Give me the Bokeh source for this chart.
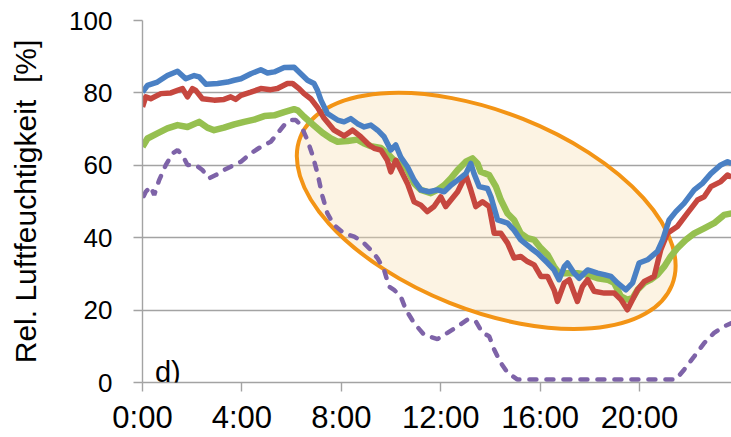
from bokeh.plotting import figure
from bokeh.models import FixedTicker, Range1d, Label
from bokeh.embed import file_html
from bokeh.resources import INLINE

# ---------------- data ----------------
tick_hours = [0, 4, 8, 12, 16, 20]
tick_labels = ["0:00", "4:00", "8:00", "12:00", "16:00", "20:00"]
y_ticks = [0, 20, 40, 60, 80, 100]

blue_t = [0.0, 0.2, 0.6, 1.0, 1.41, 1.74, 2.08, 2.28, 2.55, 3.02, 3.42, 3.69, 3.96, 4.36, 4.76,
          5.03, 5.3, 5.7, 6.1, 6.37, 6.64, 6.9, 7.04, 7.18, 7.44, 7.85, 8.11, 8.38, 8.65, 8.92,
          9.19, 9.46, 9.72, 9.99, 10.19, 10.39, 10.66, 10.93, 11.2, 11.53, 11.87, 12.14, 12.41,
          12.68, 13.01, 13.21, 13.34, 13.55, 13.88, 14.02, 14.29, 14.69, 14.95, 15.22, 15.63,
          15.9, 16.3, 16.56, 16.76, 16.97, 17.1, 17.37, 17.57, 17.91, 18.31, 18.58, 18.85, 19.11,
          19.45, 19.72, 19.98, 20.32, 20.72, 20.93, 21.19, 21.46, 21.79, 22.2, 22.53, 22.87,
          23.27, 23.54, 23.7]
blue_v = [80.2, 82.1, 83.0, 84.8, 86.0, 83.9, 84.8, 84.4, 82.4, 82.6, 83.0, 83.5, 83.9, 85.3, 86.4,
          85.5, 85.8, 87.0, 87.1, 85.3, 83.5, 82.6, 80.7, 78.0, 74.3, 72.5, 72.0, 72.9, 71.5, 70.6,
          71.1, 69.7, 67.9, 64.2, 65.6, 62.3, 59.6, 55.9, 53.2, 52.7, 53.2, 52.7, 54.5,
          55.9, 57.7, 60.5, 57.7, 54.1, 53.6, 51.3, 44.9, 44.0, 42.1, 39.4, 37.1,
          35.7, 33.0, 31.1, 28.4, 32.0, 33.0, 30.2, 28.8, 31.1, 30.2, 29.8, 29.3, 27.5,
          25.6, 27.5, 33.0, 33.9, 36.2, 39.4, 44.9, 47.2, 49.5, 53.2, 55.0, 57.7,
          60.1, 61.0, 60.5]

red_t = [0.0, 0.13, 0.33, 0.74, 1.14, 1.41, 1.61, 1.81, 2.01, 2.14, 2.41, 2.88, 3.28, 3.55, 3.75,
         3.96, 4.36, 4.76, 5.16, 5.43, 5.83, 6.04, 6.3, 6.5, 6.77, 7.04, 7.31, 7.71, 8.11, 8.45,
         8.78, 9.12, 9.32, 9.59, 9.85, 9.99, 10.19, 10.39, 10.66, 10.93, 11.2, 11.46, 11.73, 12.0,
         12.2, 12.41, 12.68, 13.01, 13.21, 13.41, 13.68, 13.95, 14.15, 14.42, 14.69, 14.95, 15.22,
         15.49, 15.76, 16.03, 16.3, 16.56, 16.7, 16.97, 17.17, 17.37, 17.5, 17.7, 17.91, 18.17,
         18.58, 18.98, 19.25, 19.51, 19.72, 19.92, 20.19, 20.59, 20.85, 21.12, 21.52, 21.92,
         22.33, 22.6, 22.87, 23.27, 23.54, 23.7]
red_v = [76.1, 78.9, 78.4, 79.8, 80.0, 80.7, 81.2, 78.9, 81.2, 80.7, 78.4, 78.0, 78.2, 78.9, 78.2,
         79.3, 80.2, 81.2, 80.9, 81.2, 82.6, 82.6, 81.2, 79.8, 78.4, 76.0, 73.0, 69.7, 68.1, 69.7,
         67.9, 65.6, 64.7, 64.2, 61.4, 58.2, 61.4, 58.7, 55.0, 49.9, 49.0, 47.2, 48.6, 51.3,
         48.6, 50.4, 52.7, 57.3, 53.2, 48.6, 49.9, 48.6, 41.2, 41.2, 38.5, 34.4, 34.8,
         33.4, 32.5, 29.3, 29.3, 25.6, 22.4, 27.5, 28.4, 24.7, 22.4, 26.5, 28.4, 25.2,
         24.7, 24.7, 22.9, 20.1, 22.9, 25.6, 27.9, 29.3, 36.6, 41.2, 43.1, 46.7,
         50.4, 51.3, 54.1, 55.5, 57.3, 56.8]

green_t = [0.0, 0.2, 0.6, 1.0, 1.41, 1.81, 2.28, 2.61, 2.88, 3.28, 3.69, 4.09, 4.49, 4.9, 5.3,
           5.7, 6.1, 6.24, 6.5, 6.9, 7.24, 7.58, 7.85, 8.25, 8.65, 8.92, 9.19, 9.59, 9.85, 10.12,
           10.39, 10.66, 10.93, 11.2, 11.6, 11.87, 12.14, 12.41, 12.68, 13.01, 13.28, 13.48, 13.61,
           13.95, 14.22, 14.42, 14.69, 14.95, 15.22, 15.49, 15.76, 16.03, 16.3, 16.56, 16.76, 17.1,
           17.5, 17.91, 18.31, 18.71, 18.98, 19.25, 19.51, 19.72, 19.92, 20.19, 20.45, 20.72,
           20.99, 21.25, 21.52, 21.86, 22.2, 22.6, 23.0, 23.4, 23.7]
green_v = [65.1, 67.4, 68.8, 70.2, 71.1, 70.6, 72.0, 70.4, 69.7, 70.4, 71.3, 72.0, 72.6, 73.6, 73.8,
           74.7, 75.5, 75.2, 73.4, 71.0, 69.0, 67.4, 66.5, 66.7, 67.1, 66.0, 65.3, 64.8, 63.3, 61.4,
           60.5, 58.7, 55.0, 53.2, 52.3, 53.2, 54.5, 56.4, 58.7, 61.0, 61.9, 60.5, 58.2,
           57.3, 54.1, 50.4, 46.7, 44.9, 41.2, 39.9, 39.4, 37.1, 35.3, 32.0, 30.2, 30.2,
           30.2, 29.8, 28.8, 28.4, 27.5, 23.8, 22.9, 23.3, 25.6, 27.5, 28.4, 29.8,
           32.0, 34.8, 37.1, 39.4, 41.2, 42.6, 44.0, 46.3, 46.7]

purple_t = [0.05, 0.13, 0.33, 0.47, 0.67, 0.94, 1.21, 1.41, 1.61, 1.81, 2.14, 2.41, 2.68, 2.95, 3.28,
            3.69, 3.96, 4.36, 4.76, 5.16, 5.43, 5.7, 5.97, 6.17, 6.37, 6.64, 6.84, 7.04, 7.24, 7.44,
            7.71, 8.11, 8.52, 8.85, 9.19, 9.46, 9.72, 9.92, 10.12, 10.39, 10.6, 10.93, 11.33, 11.87,
            12.27, 12.68, 13.08, 13.41, 13.68, 13.95, 14.15, 14.42, 14.69, 15.09, 21.46, 21.8, 22.2,
            22.6, 23.0, 23.4, 23.7]
purple_v = [51.5, 52.7, 54.1, 51.8, 55.9, 60.1, 63.3, 64.2, 62.8, 60.1, 60.1, 58.7, 56.4, 57.3, 58.7,
            60.1, 61.0, 63.3, 65.1, 66.5, 68.8, 71.1, 72.5, 72.5, 71.1, 66.9, 62.8, 57.8, 51.5, 46.7,
            43.5, 41.2, 40.3, 38.9, 36.6, 34.3, 31.1, 26.5, 25.6, 23.8, 20.1, 16.4, 13.2, 12.0,
            13.7, 15.5, 17.4, 16.9, 13.7, 12.8, 9.1, 5.4, 2.7, 0.8, 0.8, 3.6, 7.2,
            10.9, 13.7, 15.5, 16.4]

# ---------------- figure ----------------
FONT = "Liberation Sans"
GRID = "#A3A3A3"

p = figure(width=731, height=437, output_backend="svg", toolbar_location=None, title=None,
           x_range=Range1d(0, 23.70), y_range=Range1d(0, 100),
           min_border_left=142, min_border_right=0, min_border_top=20, min_border_bottom=54)
p.outline_line_color = None
p.background_fill_color = "white"
p.border_fill_color = "white"

p.xgrid.grid_line_color = None
p.ygrid.grid_line_color = GRID
p.ygrid.grid_line_width = 1.4
p.ygrid.ticker = FixedTicker(ticks=y_ticks)

for ax in (p.xaxis[0], p.yaxis[0]):
    ax.axis_line_color = GRID
    ax.axis_line_width = 1.4
    ax.major_tick_line_color = GRID
    ax.major_tick_line_width = 1.4
    ax.major_tick_out = 9
    ax.major_tick_in = 0
    ax.minor_tick_line_color = None
    ax.major_label_text_font = FONT
    ax.major_label_text_color = "black"

p.xaxis.ticker = FixedTicker(ticks=tick_hours)
p.xaxis.major_label_overrides = dict(zip(tick_hours, tick_labels))
p.xaxis.major_label_text_font_size = "31px"
p.xaxis.major_label_standoff = 8

p.yaxis.ticker = FixedTicker(ticks=y_ticks)
p.yaxis.major_label_text_font_size = "26px"
p.yaxis.major_label_standoff = 21
p.yaxis.axis_label = "Rel. Luftfeuchtigkeit \u00a0[%]"
p.yaxis.axis_label_text_font = FONT
p.yaxis.axis_label_text_font_size = "30px"
p.yaxis.axis_label_text_font_style = "normal"
p.yaxis.axis_label_text_color = "black"
p.yaxis.axis_label_standoff = 24

# highlight ellipse (annotation)
ell_x, ell_y = 13.83, 47.4
p.ellipse(x=[ell_x], y=[ell_y], width=400, height=198, angle=-0.379,
          width_units="screen", height_units="screen",
          fill_color="#F7DEAF", fill_alpha=0.35, line_color="#F39415", line_width=4)

p.line(purple_t, purple_v, line_color="#7E63A8", line_width=4.5, line_dash="7 10",
       line_cap="round")
p.line(green_t, green_v, line_color="#96C050", line_width=6.5, line_join="round")
p.line(red_t, red_v, line_color="#C6473F", line_width=5.5, line_join="round")
p.line(blue_t, blue_v, line_color="#4A80C4", line_width=5.5, line_join="round")

p.add_layout(Label(x=0.5, y=2.9, text="d)", text_font=FONT, text_font_size="29px",
                   text_baseline="alphabetic", text_color="black"))

open("out.html", "w").write(file_html(p, INLINE))
